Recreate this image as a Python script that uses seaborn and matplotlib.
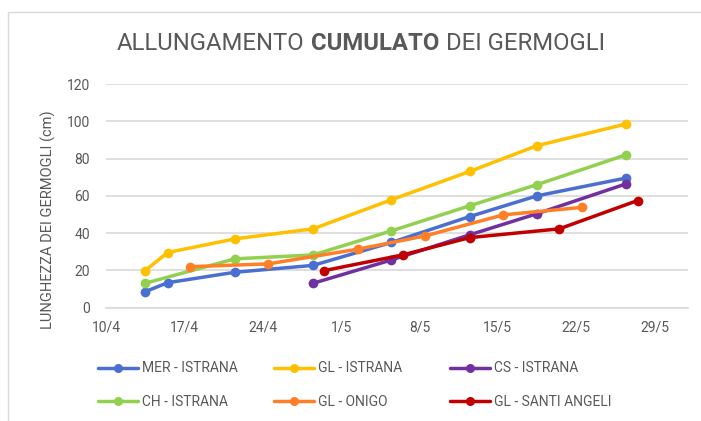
import pandas as pd
import matplotlib.pyplot as plt
import seaborn as sns
from matplotlib.lines import Line2D
from matplotlib.patches import Rectangle
from matplotlib.offsetbox import TextArea, HPacker, AnnotationBbox

# --- dati ---
series = ['MER - ISTRANA', 'GL - ISTRANA', 'CS - ISTRANA',
          'CH - ISTRANA', 'GL - ONIGO', 'GL - SANTI ANGELI']
colors = ['#4A6FD0', '#FFC000', '#7030A0', '#92D050', '#FF7F27', '#C00000']

mer_dates = ['13/4', '15/4', '21/4', '28/4', '5/5', '12/5', '18/5', '26/5']
mer_vals = [8.6, 13.4, 19.0, 22.7, 35.0, 48.9, 60.0, 69.6]

gl_ist_dates = ['13/4', '15/4', '21/4', '28/4', '5/5', '12/5', '18/5', '26/5']
gl_ist_vals = [19.9, 29.6, 36.9, 42.3, 57.9, 73.1, 86.9, 98.6]

cs_dates = ['28/4', '5/5', '12/5', '18/5', '26/5']
cs_vals = [13.1, 25.6, 39.1, 50.4, 66.5]

ch_dates = ['13/4', '21/4', '28/4', '5/5', '12/5', '18/5', '26/5']
ch_vals = [13.1, 26.2, 28.3, 41.2, 54.7, 66.0, 82.1]

onigo_dates = ['17/4', '24/4', '2/5', '8/5', '15/5', '22/5']
onigo_vals = [22.0, 23.5, 31.4, 38.5, 49.8, 53.8]

santi_dates = ['29/4', '6/5', '12/5', '20/5', '27/5']
santi_vals = [19.9, 28.3, 37.6, 42.3, 57.5]

tick_dates = ['10/4', '17/4', '24/4', '1/5', '8/5', '15/5', '22/5', '29/5']
y_ticks = [0, 20, 40, 60, 80, 100, 120]

YEAR = '2025'


def to_date(s):
    return pd.to_datetime(s + '/' + YEAR, format='%d/%m/%Y')


rows = []
for name, dd, vv in zip(series,
                        [mer_dates, gl_ist_dates, cs_dates, ch_dates, onigo_dates, santi_dates],
                        [mer_vals, gl_ist_vals, cs_vals, ch_vals, onigo_vals, santi_vals]):
    for d, v in zip(dd, vv):
        # asse "tra i segni di graduazione": il punto sta a metà giornata
        rows.append({'serie': name, 'data': to_date(d) + pd.Timedelta(hours=12), 'val': v})
df = pd.DataFrame(rows)

# --- figura ---
sns.set_style('white')
plt.rcParams['font.family'] = ['Roboto', 'DejaVu Sans']
grey = '#595959'

fig = plt.figure(figsize=(7.01, 4.21), dpi=100)
ax = fig.add_axes([106 / 701, 1 - 307.7 / 421, (688 - 106) / 701, (307.7 - 84) / 421])

sns.lineplot(data=df, x='data', y='val', hue='serie', hue_order=series,
             palette=colors, marker='o', markersize=7, markeredgewidth=0,
             linewidth=2.5, legend=False, ax=ax)

ax.set_xlim(to_date('10/4'), to_date('1/6'))
ax.set_ylim(0, 120)
ax.set_xticks([to_date(t) for t in tick_dates])
ax.set_xticklabels(tick_dates)
ax.set_yticks(y_ticks)
ax.set_xlabel('')
ax.set_ylabel('')
ax.grid(axis='y', color='#D9D9D9', linewidth=1.2)
ax.set_axisbelow(True)
for s in ['top', 'right', 'left']:
    ax.spines[s].set_visible(False)
ax.spines['bottom'].set_color('#D9D9D9')
ax.spines['bottom'].set_linewidth(1.2)
ax.tick_params(axis='x', length=4, width=1, color='#BFBFBF', pad=5, labelsize=10, labelcolor=grey)
ax.tick_params(axis='y', length=0, pad=11.5, labelsize=10, labelcolor=grey)

fig.text(48 / 701, 1 - 219.5 / 421, 'LUNGHEZZA DEI GERMOGLI (cm)', rotation=90,
         ha='center', va='center', fontsize=10.5, color=grey)

# titolo con parola in grassetto
tprops = dict(fontsize=17.2, color=grey, fontweight='normal')
bprops = dict(fontsize=17.2, color=grey, fontweight='bold')
title = HPacker(children=[TextArea('ALLUNGAMENTO', textprops=tprops),
                          TextArea('CUMULATO', textprops=bprops),
                          TextArea('DEI GERMOGLI', textprops=tprops)],
                sep=5, pad=0, align='baseline')
fig.add_artist(AnnotationBbox(title, (361 / 701, 1 - 44 / 421), xycoords='figure fraction',
                              box_alignment=(0.5, 0.5), frameon=False))

# legenda: tre colonne, due righe
handles = [Line2D([], [], color=c, lw=2.5, marker='o', ms=6.5, mew=0) for c in colors]
col_x = [98, 274, 450]
for i, x in enumerate(col_x):
    fig.legend([handles[i], handles[i + 3]], [series[i], series[i + 3]],
               loc='upper left', bbox_to_anchor=(x / 701, 1 - 361.5 / 421),
               frameon=False, fontsize=10, labelcolor=grey, handlelength=2.9,
               handletextpad=0.25, labelspacing=1.4, borderpad=0, borderaxespad=0)

fig.add_artist(Rectangle((8 / 701, -0.1), 1.1, (421 - 12) / 421 + 0.1,
                         transform=fig.transFigure, fill=False,
                         edgecolor='#D9D9D9', linewidth=1))

fig.savefig('out.png', dpi=100)
